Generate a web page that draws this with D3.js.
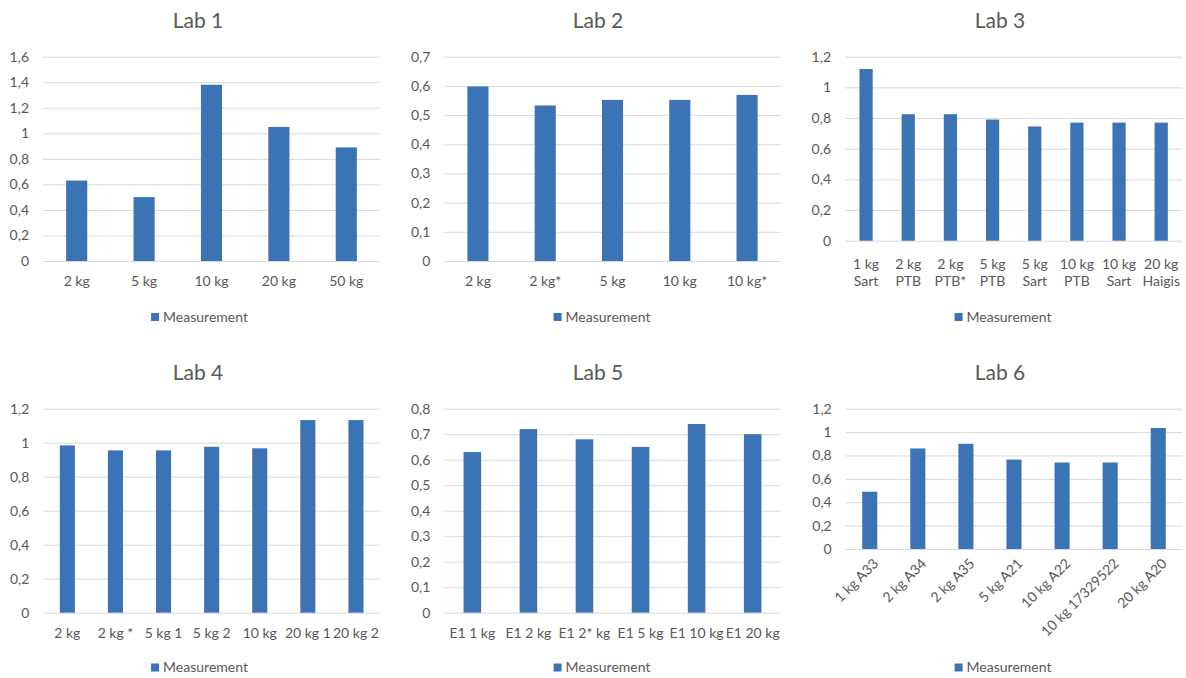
<!DOCTYPE html>
<html>
<head>
<meta charset="utf-8">
<script src="https://cdn.jsdelivr.net/npm/d3@7"></script>
<style>
  html, body { margin: 0; padding: 0; background: #ffffff; }
  svg { display: block; font-family: Lato, "Open Sans", sans-serif; }
</style>
</head>
<body>
<svg id="chart" width="1186" height="678"></svg>
<script>
// ---------------- DATA ----------------
const seriesName = "Measurement";

const lab1Categories = ["2 kg", "5 kg", "10 kg", "20 kg", "50 kg"];
const lab1Values     = [0.63, 0.50, 1.38, 1.05, 0.89];
const lab1Ticks      = [0, 0.2, 0.4, 0.6, 0.8, 1, 1.2, 1.4, 1.6];

const lab2Categories = ["2 kg", "2 kg*", "5 kg", "10 kg", "10 kg*"];
const lab2Values     = [0.598, 0.533, 0.552, 0.552, 0.569];
const lab2Ticks      = [0, 0.1, 0.2, 0.3, 0.4, 0.5, 0.6, 0.7];

const lab3Categories = ["1 kg Sart", "2 kg PTB", "2 kg PTB*", "5 kg PTB", "5 kg Sart", "10 kg PTB", "10 kg Sart", "20 kg Haigis"];
const lab3Values     = [1.12, 0.825, 0.825, 0.79, 0.745, 0.77, 0.77, 0.77];
const lab3Ticks      = [0, 0.2, 0.4, 0.6, 0.8, 1, 1.2];

const lab4Categories = ["2 kg", "2 kg *", "5 kg 1", "5 kg 2", "10 kg", "20 kg 1", "20 kg 2"];
const lab4Values     = [0.984, 0.955, 0.955, 0.976, 0.967, 1.133, 1.133];
const lab4Ticks      = [0, 0.2, 0.4, 0.6, 0.8, 1, 1.2];

const lab5Categories = ["E1 1 kg", "E1 2 kg", "E1 2* kg", "E1 5 kg", "E1 10 kg", "E1 20 kg"];
const lab5Values     = [0.63, 0.72, 0.68, 0.65, 0.74, 0.70];
const lab5Ticks      = [0, 0.1, 0.2, 0.3, 0.4, 0.5, 0.6, 0.7, 0.8];

const lab6Categories = ["1 kg A33", "2 kg A34", "2 kg A35", "5 kg A21", "10 kg A22", "10 kg 17329522", "20 kg A20"];
const lab6Values     = [0.49, 0.86, 0.90, 0.765, 0.74, 0.74, 1.035];
const lab6Ticks      = [0, 0.2, 0.4, 0.6, 0.8, 1, 1.2];

// ---------------- LAYOUT ----------------
const panels = [
  { title: "Lab 1", cats: lab1Categories, vals: lab1Values, ticks: lab1Ticks,
    x0: 43, x1: 380, yTop: 56.7, yBot: 261, titleX: 198, titleY: 28,
    legendCx: 199.5, legendY: 321.5, labelMode: "single", labelY: 286 },
  { title: "Lab 2", cats: lab2Categories, vals: lab2Values, ticks: lab2Ticks,
    x0: 444.3, x1: 780.7, yTop: 56.7, yBot: 261, titleX: 598, titleY: 28,
    legendCx: 602, legendY: 321.5, labelMode: "single", labelY: 286 },
  { title: "Lab 3", cats: lab3Categories, vals: lab3Values, ticks: lab3Ticks,
    x0: 845, x1: 1182.3, yTop: 56.7, yBot: 240.7, titleX: 1000, titleY: 28,
    legendCx: 1003, legendY: 321.5, labelMode: "wrap", labelY: 268.5 },
  { title: "Lab 4", cats: lab4Categories, vals: lab4Values, ticks: lab4Ticks,
    x0: 43.3, x1: 380, yTop: 408.7, yBot: 612.7, titleX: 198, titleY: 380,
    legendCx: 199.5, legendY: 672, labelMode: "single", labelY: 637.5 },
  { title: "Lab 5", cats: lab5Categories, vals: lab5Values, ticks: lab5Ticks,
    x0: 444.3, x1: 780.7, yTop: 408.7, yBot: 612.7, titleX: 598, titleY: 380,
    legendCx: 602, legendY: 672, labelMode: "single", labelY: 637.5 },
  { title: "Lab 6", cats: lab6Categories, vals: lab6Values, ticks: lab6Ticks,
    x0: 845.7, x1: 1182.3, yTop: 408.7, yBot: 549, titleX: 1000, titleY: 380,
    legendCx: 1003, legendY: 672, labelMode: "rotate", labelY: 549 }
];

const BAR = "#3b73b5";
const GRID = "#d9d9d9";
const TEXT = "#595959";
const fmt = d => String(+d.toFixed(2)).replace(".", ",");

const svg = d3.select("#chart");

panels.forEach(p => {
  const g = svg.append("g");
  const x = d3.scaleBand().domain(p.cats).range([p.x0, p.x1])
    .paddingInner(0.6865).paddingOuter(0.6865 / 2);
  const y = d3.scaleLinear().domain([0, d3.max(p.ticks)]).range([p.yBot, p.yTop]);

  // title
  g.append("text").attr("x", p.titleX).attr("y", p.titleY)
    .attr("text-anchor", "middle").attr("font-size", 21).attr("fill", TEXT)
    .text(p.title);

  // y axis (gridlines + labels)
  const yAxis = d3.axisLeft(y).tickValues(p.ticks).tickFormat(fmt)
    .tickSize(-(p.x1 - p.x0)).tickPadding(14);
  const ya = g.append("g").attr("transform", `translate(${p.x0},0)`).call(yAxis);
  ya.select(".domain").remove();
  ya.selectAll(".tick line").attr("stroke", GRID).attr("stroke-width", 1);
  ya.selectAll(".tick text").attr("fill", TEXT).attr("font-size", 14)
    .attr("font-family", "Lato, 'Open Sans', sans-serif");

  // bars
  g.selectAll("rect.bar").data(p.cats).enter().append("rect")
    .attr("class", "bar")
    .attr("x", d => x(d))
    .attr("width", x.bandwidth())
    .attr("y", (d, i) => y(p.vals[i]))
    .attr("height", (d, i) => y(0) - y(p.vals[i]))
    .attr("fill", BAR);

  // x labels
  const cx = d => x(d) + x.bandwidth() / 2;
  if (p.labelMode === "single") {
    g.selectAll("text.xl").data(p.cats).enter().append("text")
      .attr("class", "xl").attr("x", cx).attr("y", p.labelY)
      .attr("text-anchor", "middle").attr("font-size", 14).attr("fill", TEXT)
      .text(d => d);
  } else if (p.labelMode === "wrap") {
    const t = g.selectAll("text.xl").data(p.cats).enter().append("text")
      .attr("class", "xl").attr("text-anchor", "middle")
      .attr("font-size", 14).attr("fill", TEXT);
    t.each(function (d) {
      const idx = d.indexOf("kg") + 2;
      const l1 = d.slice(0, idx).trim(), l2 = d.slice(idx).trim();
      const el = d3.select(this);
      el.append("tspan").attr("x", cx(d)).attr("y", p.labelY).text(l1);
      el.append("tspan").attr("x", cx(d)).attr("y", p.labelY + 17.5).text(l2);
    });
  } else {
    g.selectAll("text.xl").data(p.cats).enter().append("text")
      .attr("class", "xl")
      .attr("transform", d => `translate(${cx(d) + 6},${p.labelY + 12}) rotate(-45)`)
      .attr("text-anchor", "end").attr("dy", "0.35em")
      .attr("font-size", 14).attr("fill", TEXT)
      .text(d => d);
  }

  // legend
  const lg = g.append("g");
  const lt = lg.append("text").attr("y", p.legendY).attr("font-size", 14)
    .attr("fill", TEXT).text(seriesName);
  const tw = lt.node().getComputedTextLength();
  const total = 8 + 4 + tw;
  const left = p.legendCx - total / 2;
  lt.attr("x", left + 12);
  lg.append("rect").attr("x", left).attr("y", p.legendY - 8.5)
    .attr("width", 8).attr("height", 8).attr("fill", BAR);
});
</script>
</body>
</html>
